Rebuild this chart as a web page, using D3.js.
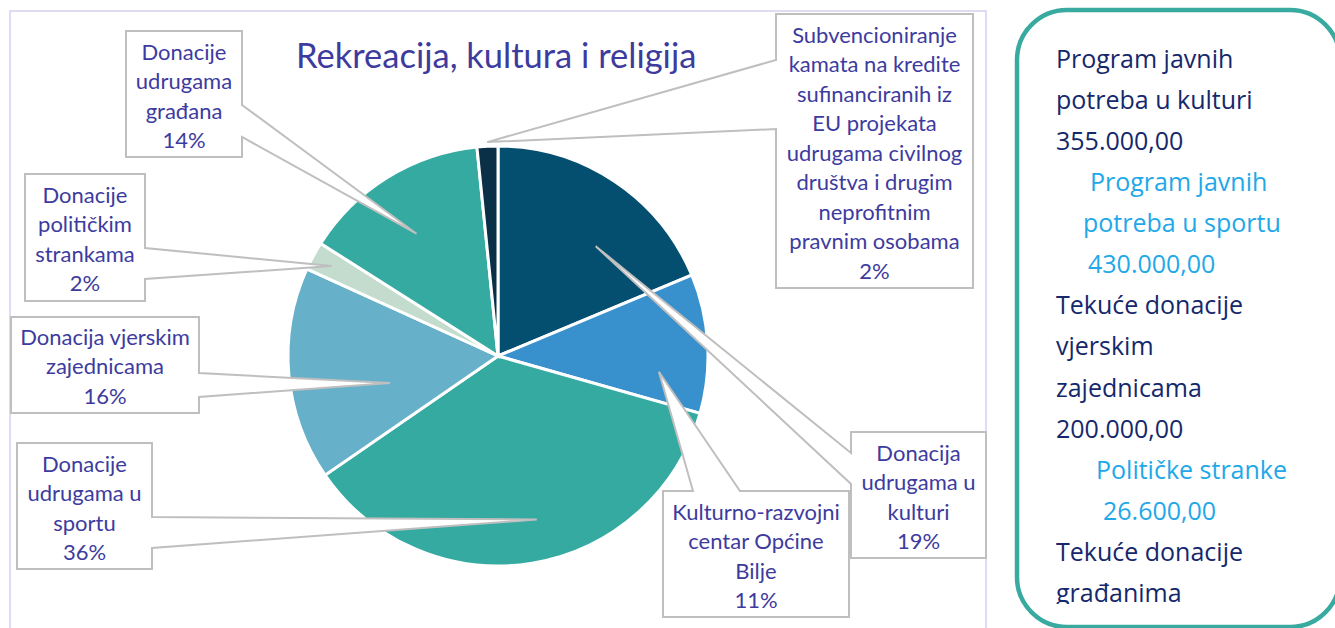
<!DOCTYPE html>
<html lang="hr">
<head>
<meta charset="utf-8">
<style>
  body { margin: 0; background: #fff; }
  svg { font-family: Lato, 'Open Sans', sans-serif; }
  .frame { fill: none; stroke: #d3d1f2; stroke-width: 1.5; }
  .title { fill: #3d3b9e; font-size: 34.5px; }
  .slice { stroke: #fff; stroke-width: 3; }
  .callout path { fill: #fff; stroke: #bfbfbf; stroke-width: 2; stroke-linejoin: miter; }
  .callout text { fill: #3d3b9e; font-size: 22px; text-anchor: middle; }
  .panel rect { fill: #fff; stroke: #38aaa0; stroke-width: 4.5; }
  .panel text { font-family: 'Open Sans', sans-serif; font-size: 25px; }
  .panel .dark { fill: #14286b; }
  .panel .light { fill: #22a8e8; }
</style>
</head>
<body>
<svg width="1335" height="628"></svg>
<script src="https://cdn.jsdelivr.net/npm/d3@7"></script>
<script>
// slices, clockwise from 12 o'clock
const categories = [
  "Donacija udrugama u kulturi",
  "Kulturno-razvojni centar Općine Bilje",
  "Donacije udrugama u sportu",
  "Donacija vjerskim zajednicama",
  "Donacije političkim strankama",
  "Donacije udrugama građana",
  "Subvencioniranje kamata na kredite sufinanciranih iz EU projekata udrugama civilnog društva i drugim neprofitnim pravnim osobama"
]
const shares = [18.7, 10.7, 36.0, 16.4, 2.2, 14.4, 1.6]
const colors = ["#044f70", "#3891cd", "#35aaa0", "#66b1c9", "#c3dccd", "#35aaa0", "#0a3047"]

// label text as wrapped in the original callouts
const labelLines = [
  ["Donacija", "udrugama u", "kulturi"],
  ["Kulturno-razvojni", "centar Općine", "Bilje"],
  ["Donacije", "udrugama u", "sportu"],
  ["Donacija vjerskim", "zajednicama"],
  ["Donacije", "političkim", "strankama"],
  ["Donacije", "udrugama", "građana"],
  ["Subvencioniranje", "kamata na kredite", "sufinanciranih iz", "EU projekata", "udrugama civilnog", "društva i drugim", "neprofitnim", "pravnim osobama"]
]

const title = "Rekreacija, kultura i religija"

const panelLines = [
  "Program javnih", "potreba u kulturi", "355.000,00",
  "Program javnih", "potreba u sportu", "430.000,00",
  "Tekuće donacije", "vjerskim", "zajednicama", "200.000,00",
  "Političke stranke", "26.600,00",
  "Tekuće donacije", "građanima"
]
const panelTones = ["dark", "dark", "dark", "light", "light", "light",
  "dark", "dark", "dark", "dark", "light", "light", "dark", "dark"]

// ---- layout ----
const cx = 498, cy = 356, radius = 210
const lineGap = 29.5
// callout boxes: box, side where the pointer leaves, pointer base, tip (radius fraction, angle nudge in deg)
const boxes = [
  { x: 851, y: 432, w: 135, h: 126, side: "left",  a: 453, b: 484, first: 453, tr: 0.70, nudge: 8 },
  { x: 663, y: 491, w: 186, h: 126, side: "top",   a: 693, b: 740, first: 512, tr: 0.77, nudge: 9 },
  { x: 17,  y: 443, w: 135, h: 126, side: "right", a: 517, b: 548, first: 464, tr: 0.80, nudge: -4 },
  { x: 11,  y: 317, w: 188, h: 96,  side: "right", a: 373, b: 397, first: 337, tr: 0.53, nudge: -9 },
  { x: 25,  y: 174, w: 120, h: 127, side: "right", a: 248, b: 279, first: 195, tr: 0.90, nudge: 0 },
  { x: 126, y: 31,  w: 116, h: 126, side: "right", a: 105, b: 137, first: 52,  tr: 0.70, nudge: -2 },
  { x: 776, y: 14,  w: 197, h: 274, side: "left",  a: 60,  b: 129, first: 35,  tr: 1.02, nudge: 0 }
]
const panelIndent = [1056, 1056, 1056, 1090, 1083, 1088, 1056, 1056, 1056, 1056, 1096, 1103, 1056, 1056]

const svg = d3.select("svg")

svg.append("rect").attr("class", "frame")
  .attr("x", 10).attr("y", 11).attr("width", 976).attr("height", 660)

const pie = d3.pie().sort(null).value(d => d)
const arcs = pie(shares)
const arc = d3.arc().innerRadius(0).outerRadius(radius)

const g = svg.append("g").attr("transform", "translate(" + cx + "," + cy + ")")
g.selectAll("path")
  .data(arcs)
  .enter().append("path")
  .attr("class", "slice")
  .attr("fill", (d, i) => colors[i])
  .attr("d", arc)

svg.append("text").attr("class", "title")
  .attr("x", 296).attr("y", 68)
  .text(title)

const total = d3.sum(shares)

function tipOf(d, i) {
  const b = boxes[i]
  const ang = (d.startAngle + d.endAngle) / 2 + b.nudge * Math.PI / 180
  const r = radius * b.tr
  return [cx + r * Math.sin(ang), cy - r * Math.cos(ang)]
}

function calloutPath(b, tip) {
  const x0 = b.x, y0 = b.y, x1 = b.x + b.w, y1 = b.y + b.h
  const p = [[x0, y0]]
  if (b.side === "top") p.push([b.a, y0], tip, [b.b, y0])
  p.push([x1, y0])
  if (b.side === "right") p.push([x1, b.a], tip, [x1, b.b])
  p.push([x1, y1], [x0, y1])
  if (b.side === "left") p.push([x0, b.b], tip, [x0, b.a])
  return "M" + p.map(q => q[0].toFixed(1) + "," + q[1].toFixed(1)).join("L") + "Z"
}

const callouts = svg.append("g").selectAll("g.callout")
  .data(arcs)
  .enter().append("g")
  .attr("class", "callout")

callouts.append("path")
  .attr("d", (d, i) => calloutPath(boxes[i], tipOf(d, i)))

callouts.each(function (d, i) {
  const b = boxes[i]
  const lines = labelLines[i].concat([Math.round(d.value / total * 100) + "%"])
  d3.select(this).selectAll("text")
    .data(lines)
    .enter().append("text")
    .attr("x", b.x + b.w / 2)
    .attr("y", (t, k) => b.first + k * lineGap)
    .attr("dy", "0.36em")
    .text(t => t)
})

// side panel
const panel = svg.append("g").attr("class", "panel")
panel.append("rect")
  .attr("x", 1017).attr("y", 10).attr("width", 323).attr("height", 617).attr("rx", 50)

// the text box in the original cuts off its last line
svg.append("clipPath").attr("id", "panelClip")
  .append("rect").attr("x", 1020).attr("y", 14).attr("width", 315).attr("height", 590)

panel.append("g").attr("clip-path", "url(#panelClip)")
  .selectAll("text")
  .data(panelLines)
  .enter().append("text")
  .attr("class", (t, i) => panelTones[i])
  .attr("x", (t, i) => panelIndent[i])
  .attr("y", (t, i) => 59 + i * 41.07)
  .attr("dy", "0.36em")
  .text(t => t)
</script>
</body>
</html>
